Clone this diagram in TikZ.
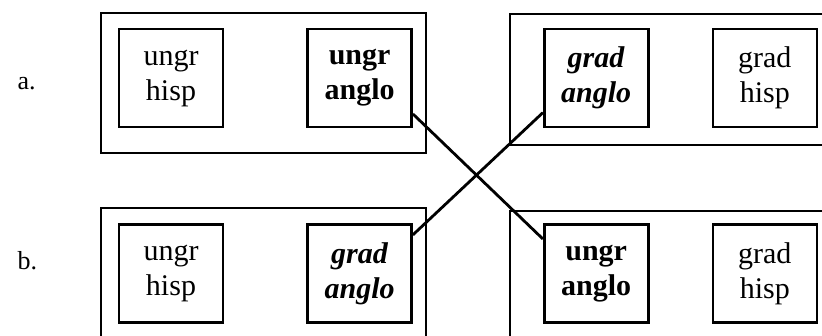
\documentclass[tikz,border=0pt]{standalone}
\usepackage{fontspec}
\setmainfont{Liberation Serif}
\usetikzlibrary{positioning}
\tikzset{
	cell/.style={
			draw,
			line width=2.6pt,
			minimum width=104pt,
			minimum height=98pt,
			inner sep=0pt,
			align=center,
			font=\fontsize{30}{35}\selectfont
		},
	group/.style={
			line width=2pt
		},
	tag/.style={
			anchor=base west,
			font=\fontsize{26}{30}\selectfont
		}
}

\begin{document}
\begin{tikzpicture}[x=1pt,y=-1pt]
		\clip (0,0) rectangle (822,336);

		% Row labels
		\node[tag] (la) at (14,90) {a.};
		\node[tag] (lb) at (14,270) {b.};

		% Outer boxes
		\draw[group] (101,13) rectangle (426,153);
		\draw[group] (510,14) rectangle (850,145);
		\draw[group] (101,208) rectangle (426,350);
		\draw[group] (510,211) rectangle (850,350);

		% Row a
		\node[cell] (uh1) at (171,78) {ungr\\hisp};

		\node[cell,
			right=82pt of uh1
		] (ua1) {\textbf{ungr}\\\textbf{anglo}};

		\node[cell,
			right=130pt of ua1
		] (ga1) {\textbf{\textit{grad}}\\\textbf{\textit{anglo}}};

		\node[cell,
			right=62pt of ga1
		] (gh1) {grad\\hisp};

		% Row b
		\node[cell,
			below=95pt of uh1
		] (uh2) {ungr\\hisp};

		\node[cell,
			right=82pt of uh2
		] (ga2) {\textbf{\textit{grad}}\\\textbf{\textit{anglo}}};

		\node[cell,
			right=130pt of ga2
		] (ua2) {\textbf{ungr}\\\textbf{anglo}};

		\node[cell,
			right=62pt of ua2
		] (gh2) {grad\\hisp};

		% Crossing lines
		\draw[line width=2.8pt] (ua1.-34) -- (ua2.147);
		\draw[line width=2.8pt] (ga2.36) -- (ga1.213);
	\end{tikzpicture}
\end{document}
